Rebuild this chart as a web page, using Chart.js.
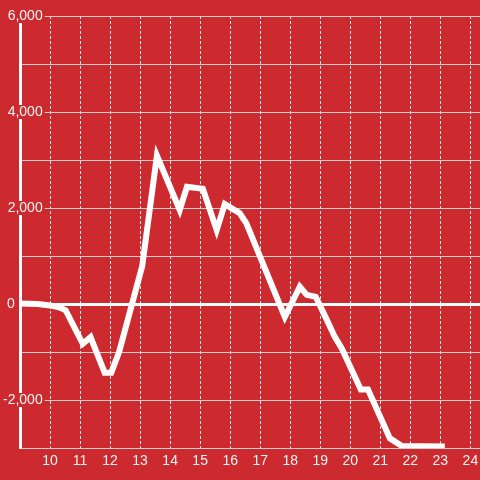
<!DOCTYPE html>
<html>
<head>
<meta charset="utf-8">
<script src="https://cdn.jsdelivr.net/npm/chart.js@4/dist/chart.umd.min.js"></script>
<style>
  html, body { margin: 0; padding: 0; background: #cc2a2f; }
  #wrap { width: 480px; height: 480px; }
</style>
</head>
<body>
<div id="wrap"><canvas id="grafico"></canvas></div>
<script>
// hora do dia (decimal) e valor
var horas = [8.9, 9.6, 10.0, 10.3, 10.52, 11.09, 11.35, 11.82, 12.04, 12.3, 13.07, 13.56, 14.32, 14.56, 15.09, 15.55, 15.82, 16.32, 16.54, 17.82, 18.32, 18.55, 18.85, 19.22, 19.48, 19.72, 20.35, 20.59, 21.32, 21.72, 23.15];
var valores = [10, 0, -30, -70, -130, -830, -690, -1430, -1430, -1000, 790, 3090, 1960, 2440, 2400, 1540, 2080, 1890, 1680, -270, 360, 190, 150, -330, -680, -930, -1780, -1780, -2800, -2960, -2970];

var ticksX = [10, 11, 12, 13, 14, 15, 16, 17, 18, 19, 20, 21, 22, 23, 24];
var ticksY = [-3000, -2000, -1000, 0, 1000, 2000, 3000, 4000, 5000, 6000];

const fundo = "#cc2a2f";
const pontos = horas.map((h, i) => ({ x: h, y: valores[i] }));

const grafico = new Chart(document.getElementById("grafico"), {
  type: "line",
  data: {
    datasets: [
      {
        data: pontos,
        borderColor: "#ffffff",
        borderWidth: 6,
        pointRadius: 0,
        tension: 0,
        fill: false,
      },
    ],
  },
  options: {
    responsive: true,
    maintainAspectRatio: false,
    animation: false,
    layout: { padding: { top: 16, left: 20, right: 0, bottom: 6 } },
    plugins: { legend: { display: false }, tooltip: { enabled: false } },
    scales: {
      x: {
        type: "linear",
        min: 9,
        max: 24.32,
        afterBuildTicks: (s) => { s.ticks = ticksX.map((v) => ({ value: v })); },
        grid: { color: "#e6e6e6", lineWidth: 1, drawTicks: false },
        border: { display: false, dash: [3, 2] },
        ticks: {
          color: "#f4f4f4",
          padding: 0,
          font: { family: "Liberation Sans, Arial, sans-serif", size: 14, lineHeight: "26px" },
          callback: (v) => String(v),
        },
      },
      y: {
        min: -3000,
        max: 6000,
        afterBuildTicks: (s) => { s.ticks = ticksY.map((v) => ({ value: v })); },
        afterFit: (s) => { s.width = 0; },
        grid: {
          drawTicks: false,
          color: (c) => (c.tick && c.tick.value === 0 ? "#ffffff" : "#cfcfcf"),
          lineWidth: (c) => (c.tick && c.tick.value === 0 ? 3 : 1),
        },
        border: { display: true, color: "#ffffff", width: 3 },
        ticks: {
          mirror: true,
          crossAlign: "far",
          padding: -17,
          color: "#f4f4f4",
          font: { family: "Liberation Sans, Arial, sans-serif", size: 14, lineHeight: 1 },
          showLabelBackdrop: true,
          backdropPadding: { left: 2, right: 2, top: 0, bottom: 0 },
          backdropColor: (c) =>
            c.tick && c.tick.value !== 0 && c.tick.value % 2000 === 0 ? fundo : "rgba(0,0,0,0)",
          callback: (v) => {
            if (v === 0) return "0\u2003\u2003";
            return v % 2000 === 0 ? v.toLocaleString("en-US") : "";
          },
        },
      },
    },
  },
});
</script>
</body>
</html>
